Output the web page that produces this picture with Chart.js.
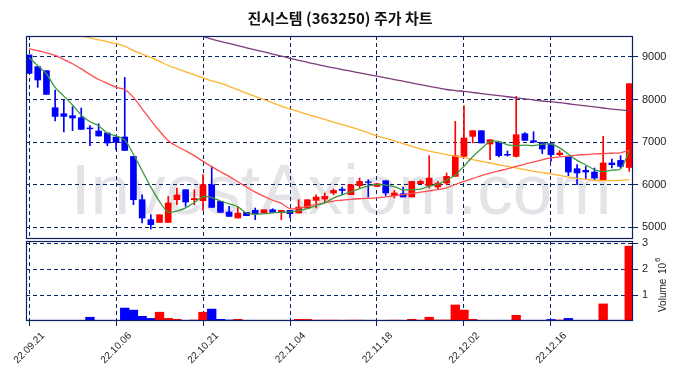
<!DOCTYPE html>
<html>
<head>
<meta charset="utf-8">
<script src="https://cdn.jsdelivr.net/npm/chart.js@4.4.1/dist/chart.umd.min.js"></script>
<style>
  html, body { margin: 0; padding: 0; background: #fff; }
  #wrap { position: relative; width: 680px; height: 378px; overflow: hidden; }
  #title { position: absolute; left: 0; top: 7px; width: 680px; text-align: center;
           font: bold 15px "Noto Sans CJK KR", sans-serif; color: #111; z-index: 2; }
  #c1 { position: absolute; left: 0; top: 0; }
  #c2 { position: absolute; left: 0; top: 230px; }
</style>
</head>
<body>
<div id="wrap">
  <canvas id="c1" width="680" height="240"></canvas>
  <canvas id="c2" width="680" height="148"></canvas>
  <div id="title">진시스템 (363250) 주가 차트</div>
</div>
<script>
// trading days 22.09.21 .. 22.12.29, one entry per candle
const tickIdx = [0, 10, 20, 30, 40, 50, 60];
const tickLabels = ['22.09.21', '22.10.06', '22.10.21', '22.11.04', '22.11.18', '22.12.02', '22.12.16'];

const opens = [9047, 8772, 8678, 7807, 7666, 7619, 7572, 7330, 7259, 7212,
  7118, 7118, 6661, 5642, 5172, 5108, 5108, 5642, 5878, 5642,
  5619, 5995, 5602, 5353, 5212, 5344, 5391, 5329, 5407, 5344,
  5391, 5329, 5447, 5626, 5659, 5800, 5890, 5760, 5972, 6065,
  5955, 6089, 5736, 5784, 5706, 6019, 5972, 5941, 6035, 6191,
  6661, 7132, 7266, 6953, 6977, 6710, 6661, 7195, 7031, 6988,
  6960, 6701, 6647, 6372, 6333, 6294, 6113, 6506, 6567, 6400];
const highs = [9047, 8772, 8678, 8224, 7995, 7830, 7800, 7384, 7431, 7212,
  7118, 8520, 6661, 5760, 5290, 5289, 5720, 5918, 5878, 5878,
  6231, 6426, 5602, 5485, 5485, 5344, 5447, 5407, 5430, 5391,
  5391, 5642, 5642, 5760, 5800, 5894, 5941, 5995, 6153, 6113,
  6019, 6089, 5861, 5941, 6073, 6100, 6678, 6073, 6271, 7485,
  7854, 7266, 7266, 7054, 6977, 6788, 8073, 7220, 7242, 6988,
  6960, 6802, 6647, 6466, 6426, 6388, 7132, 6600, 6678, 8372];
const lows = [8614, 8285, 8120, 7494, 7235, 7266, 7297, 6913, 7141, 6913,
  6819, 6802, 5525, 5094, 4953, 5108, 5108, 5525, 5485, 5525,
  5391, 5461, 5344, 5249, 5212, 5266, 5172, 5329, 5344, 5172,
  5212, 5329, 5447, 5447, 5579, 5760, 5760, 5760, 5918, 5706,
  5955, 5736, 5682, 5706, 5706, 6019, 5918, 5878, 5995, 6191,
  6661, 6977, 6977, 6584, 6647, 6670, 6647, 7038, 7000, 6725,
  6544, 6678, 6207, 5995, 6113, 6113, 6113, 6388, 6388, 6308];
const closes = [8614, 8459, 8120, 7602, 7602, 7565, 7297, 7310, 7141, 6977,
  6991, 6802, 5642, 5212, 5054, 5289, 5565, 5753, 5588, 5673,
  5995, 5461, 5344, 5249, 5329, 5266, 5313, 5407, 5344, 5391,
  5313, 5470, 5642, 5706, 5720, 5861, 5860, 5995, 6073, 6050,
  6019, 5800, 5800, 5706, 6073, 6073, 6153, 6035, 6191, 6678,
  7094, 7266, 6977, 7054, 6678, 6690, 7172, 7038, 7000, 6835,
  6701, 6741, 6294, 6271, 6294, 6153, 6506, 6466, 6426, 8372];

// volume in millions
const volumes = [0.03, 0.03, 0.03, 0.03, 0.03, 0.03, 0.03, 0.145, 0.03, 0.03,
  0.03, 0.5, 0.42, 0.18, 0.1, 0.34, 0.1, 0.065, 0.03, 0.04,
  0.34, 0.46, 0.065, 0.04, 0.065, 0.03, 0.03, 0.03, 0.03, 0.03,
  0.03, 0.065, 0.06, 0.035, 0.035, 0.035, 0.03, 0.035, 0.035, 0.03,
  0.03, 0.03, 0.035, 0.03, 0.065, 0.035, 0.145, 0.04, 0.04, 0.62,
  0.42, 0.065, 0.03, 0.03, 0.03, 0.03, 0.22, 0.03, 0.03, 0.03,
  0.06, 0.04, 0.1, 0.03, 0.03, 0.03, 0.66, 0.03, 0.03, 2.89];

// moving averages
const ma5 = [8990, 8795, 8600, 8285, 8079, 7870, 7637, 7476, 7384, 7206,
  7144, 7045, 6711, 6325, 5940, 5600, 5352, 5375, 5450, 5574,
  5715, 5694, 5612, 5544, 5476, 5330, 5300, 5313, 5332, 5344,
  5354, 5385, 5432, 5504, 5570, 5680, 5758, 5828, 5902, 5968,
  5999, 5987, 5948, 5875, 5880, 5890, 5961, 6008, 6105, 6226,
  6430, 6653, 6841, 7014, 7014, 6933, 6914, 6926, 6916, 6947,
  6949, 6863, 6714, 6568, 6460, 6351, 6304, 6338, 6369, 6785];
const ma20 = [9195, 9150, 9095, 9040, 8940, 8840, 8720, 8590, 8470, 8380,
  8290, 8235, 8050, 7780, 7510, 7260, 7030, 6900, 6790, 6680,
  6544, 6420, 6300, 6190, 6065, 5940, 5820, 5720, 5630, 5555,
  5430, 5445, 5485, 5530, 5570, 5610, 5630, 5650, 5665, 5675,
  5685, 5710, 5735, 5760, 5790, 5820, 5850, 5880, 5920, 6000,
  6075, 6140, 6210, 6270, 6320, 6370, 6425, 6480, 6530, 6580,
  6625, 6650, 6670, 6690, 6705, 6720, 6730, 6735, 6745, 6805];
const ma60 = [9760, 9715, 9670, 9625, 9580, 9540, 9495, 9450, 9405, 9360,
  9315, 9255, 9150, 9070, 8990, 8895, 8800, 8725, 8650, 8580,
  8510, 8440, 8385, 8310, 8230, 8150, 8075, 8000, 7920, 7845,
  7777, 7715, 7650, 7590, 7530, 7470, 7410, 7350, 7285, 7215,
  7145, 7085, 7025, 6960, 6900, 6840, 6785, 6745, 6705, 6670,
  6630, 6585, 6545, 6506, 6465, 6425, 6390, 6350, 6310, 6280,
  6250, 6215, 6175, 6145, 6120, 6100, 6093, 6090, 6100, 6115];
const ma120 = [10800, 10735, 10670, 10605, 10540, 10475, 10410, 10345, 10280, 10215,
  10150, 10085, 10020, 9955, 9890, 9825, 9755, 9685, 9615, 9545,
  9485, 9420, 9367, 9320, 9270, 9215, 9165, 9120, 9070, 9020,
  8970, 8920, 8875, 8830, 8785, 8745, 8705, 8665, 8625, 8585,
  8550, 8510, 8470, 8430, 8390, 8350, 8310, 8275, 8235, 8210,
  8190, 8165, 8140, 8115, 8090, 8065, 8040, 8015, 7990, 7965,
  7950, 7925, 7900, 7875, 7850, 7825, 7800, 7775, 7755, 7735];

const priceTicks = [5000, 6000, 7000, 8000, 9000];
const volTicks = [1, 2, 3];

const UP = '#ff0000', DOWN = '#0000ff';
const NAVY = '#0b2160';
const FONT = '"Liberation Sans", Arial, sans-serif';
const xMin = -0.35, xMax = 69.43;

const candleColors = opens.map((o, i) => (closes[i] >= o ? UP : DOWN));

const framePlugin = {
  id: 'frame',
  afterDraw(c) {
    const a = c.chartArea, ctx = c.ctx;
    ctx.save();
    ctx.strokeStyle = NAVY;
    ctx.lineWidth = 1.2;
    ctx.strokeRect(a.left + 0.5, a.top + 0.5, a.right - a.left - 1, a.bottom - a.top - 1);
    ctx.restore();
  }
};

const watermark = {
  id: 'watermark',
  beforeDraw(c) {
    const ctx = c.ctx;
    ctx.save();
    ctx.font = '71px ' + FONT;
    ctx.fillStyle = '#e4e4e8';
    ctx.textAlign = 'center';
    ctx.textBaseline = 'alphabetic';
    ctx.fillText('InvestAxiom.com', 341, 214);
    ctx.restore();
  }
};

const volTitle = {
  id: 'volTitle',
  afterDraw(c) {
    const ctx = c.ctx;
    ctx.save();
    ctx.translate(663, 82);
    ctx.rotate(-Math.PI / 2);
    ctx.fillStyle = '#222';
    ctx.textBaseline = 'middle';
    ctx.font = '10px ' + FONT;
    ctx.fillText('Volume', 0, 0);
    ctx.fillText('10', 38, 0);
    ctx.font = '8px ' + FONT;
    ctx.fillText('6', 50, -5);
    ctx.restore();
  }
};

// keep the plot boxes exactly where the reference has them
function noPad(s) {
  s.paddingTop = 0; s.paddingBottom = 0; s.paddingLeft = 0; s.paddingRight = 0;
}

function lineSet(vals, color) {
  return {
    type: 'line', data: vals.map((v, i) => ({ x: i, y: v })),
    borderColor: color, borderWidth: 1.3, pointRadius: 0,
    tension: 0.3, order: 0
  };
}

function xScale(showLabels) {
  return {
    type: 'linear', min: xMin, max: xMax, offset: false,
    afterBuildTicks: (s) => { s.ticks = tickIdx.map((v) => ({ value: v })); },
    grid: {
      color: NAVY, lineWidth: 1, offset: false,
      drawTicks: showLabels, tickLength: 5, tickColor: NAVY, tickBorderDash: []
    },
    border: { display: false, dash: [4, 3] },
    ticks: {
      display: showLabels, autoSkip: false, maxRotation: 45, minRotation: 45,
      padding: 4, labelOffset: 14,
      color: '#222', font: { family: FONT, size: 10 },
      callback: (v) => tickLabels[tickIdx.indexOf(v)]
    },
    afterFit: (s) => { s.height = showLabels ? 57 : 1; noPad(s); }
  };
}

function yScale(min, max, ticks) {
  return {
    position: 'right', min: min, max: max,
    afterBuildTicks: (s) => { s.ticks = ticks.map((v) => ({ value: v })); },
    afterFit: (s) => { s.width = 47; noPad(s); },
    grid: { color: NAVY, lineWidth: 1, drawTicks: true, tickLength: 5, tickColor: NAVY },
    border: { display: false, dash: [4, 3] },
    ticks: { padding: 4, color: '#222', font: { family: FONT, size: 11 }, callback: (v) => String(v) }
  };
}

new Chart(document.getElementById('c1'), {
  type: 'bar',
  data: {
    datasets: [
      lineSet(ma5, '#3a9a3a'),
      lineSet(ma20, '#ff4d4d'),
      lineSet(ma60, '#ffb32e'),
      lineSet(ma120, '#7a3c7a'),
      {
        type: 'bar', data: opens.map((o, i) => ({ x: i, y: [o, closes[i]] })),
        backgroundColor: candleColors, barThickness: 6, grouped: false, order: 1
      },
      {
        type: 'bar', data: lows.map((l, i) => ({ x: i, y: [l, highs[i]] })),
        backgroundColor: candleColors, barThickness: 1, grouped: false, order: 2
      }
    ]
  },
  options: {
    responsive: false, animation: false,
    layout: { padding: { left: 26, top: 36, right: 0, bottom: 0 } },
    plugins: { legend: { display: false }, tooltip: { enabled: false } },
    scales: { x: xScale(false), y: yScale(4718, 9494, priceTicks) }
  },
  plugins: [watermark, framePlugin]
});

new Chart(document.getElementById('c2'), {
  type: 'bar',
  data: {
    datasets: [{
      data: volumes.map((v, i) => ({ x: i, y: v })),
      backgroundColor: candleColors, barPercentage: 1, categoryPercentage: 1
    }]
  },
  options: {
    responsive: false, animation: false,
    layout: { padding: { left: 26, top: 11, right: 0, bottom: 0 } },
    plugins: { legend: { display: false }, tooltip: { enabled: false } },
    scales: { x: xScale(true), y: yScale(0, 3.09, volTicks) }
  },
  plugins: [framePlugin, volTitle]
});
</script>
</body>
</html>
